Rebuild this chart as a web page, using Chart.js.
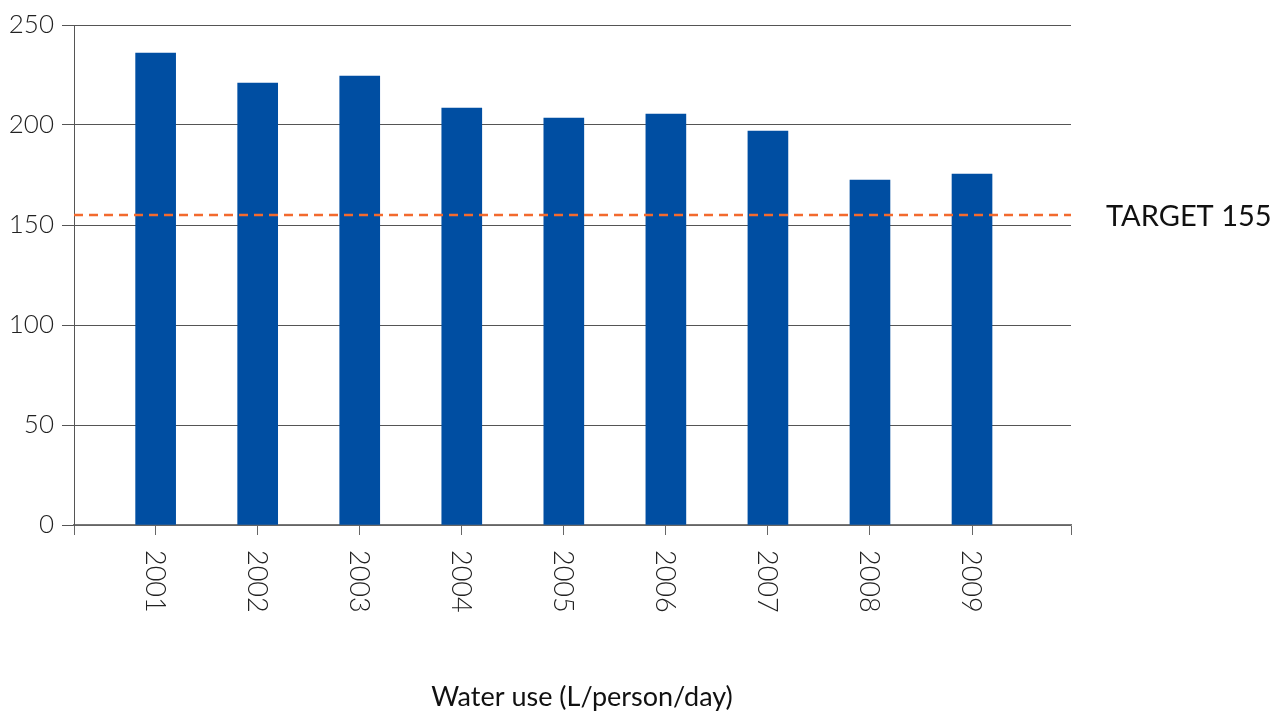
<!DOCTYPE html>
<html>
<head>
<meta charset="utf-8">
<script src="https://cdn.jsdelivr.net/npm/chart.js@4.4.0/dist/chart.umd.min.js"></script>
<style>
  html, body { margin: 0; padding: 0; background: #ffffff; }
  #wrap { width: 1274px; height: 713px; position: relative; }
</style>
</head>
<body>
<div id="wrap"><canvas id="c" width="1274" height="713"></canvas></div>
<script>
const years = [2001, 2002, 2003, 2004, 2005, 2006, 2007, 2008, 2009];
const waterUse = [236, 221, 224.5, 208.5, 203.5, 205.5, 197, 172.5, 175.5];
const targetValue = 155;
const targetLabel = 'TARGET 155';
const xTitle = 'Water use (L/person/day)';
const yTicks = [0, 50, 100, 150, 200, 250];
const xMin = 2000.2, xMax = 2009.97;

const FONT = "Lato, 'Open Sans', sans-serif";

const textPlugin = {
  id: 'texts',
  afterDraw(chart) {
    const ctx = chart.ctx;
    const xs = chart.scales.x, ys = chart.scales.y;
    ctx.save();
    // rotated year labels (clockwise)
    ctx.fillStyle = '#222';
    ctx.font = `300 27px ${FONT}`;
    ctx.textAlign = 'left';
    ctx.textBaseline = 'middle';
    years.forEach(yr => {
      const px = xs.getPixelForValue(yr);
      ctx.save();
      ctx.translate(px, 550);
      ctx.rotate(Math.PI / 2);
      ctx.fillText(String(yr), 0, 1);
      ctx.restore();
    });
    // target label
    ctx.fillStyle = '#111';
    ctx.font = `400 29px ${FONT}`;
    ctx.textAlign = 'left';
    ctx.textBaseline = 'middle';
    ctx.fillText(targetLabel, 1106, ys.getPixelForValue(targetValue) + 2);
    // x title
    ctx.font = `400 27px ${FONT}`;
    ctx.textAlign = 'center';
    ctx.fillText(xTitle, 582, 697);
    ctx.restore();
  }
};

new Chart(document.getElementById('c'), {
  type: 'bar',
  data: {
    datasets: [
      {
        type: 'line',
        data: [{x: xMin, y: targetValue}, {x: xMax, y: targetValue}],
        borderColor: '#F26A2E',
        borderWidth: 2.5,
        borderDash: [9, 6],
        pointRadius: 0,
        fill: false,
        order: 0
      },
      {
        type: 'bar',
        data: years.map((y, i) => ({x: y, y: waterUse[i]})),
        backgroundColor: '#004EA2',
        borderWidth: 0,
        barThickness: 40,
        order: 1
      }
    ]
  },
  options: {
    responsive: false,
    animation: false,
    devicePixelRatio: 1,
    layout: { padding: { top: 25, right: 203, left: 0, bottom: 0 } },
    plugins: { legend: { display: false }, tooltip: { enabled: false } },
    scales: {
      x: {
        type: 'linear',
        min: xMin,
        max: xMax,
        offset: false,
        afterBuildTicks(scale) {
          scale.ticks = [xMin, ...years, xMax].map(v => ({ value: v }));
        },
        afterFit(scale) { scale.height = 188; },
        ticks: { display: false },
        grid: { offset: false, drawOnChartArea: false, drawTicks: true, tickLength: 10, color: '#666', lineWidth: 1 },
        border: { display: true, color: '#777', width: 1.5 }
      },
      y: {
        min: 0,
        max: 250,
        afterBuildTicks(scale) {
          scale.ticks = yTicks.map(v => ({ value: v }));
        },
        afterFit(scale) { scale.width = 74; },
        ticks: {
          color: '#222',
          font: { family: FONT, size: 26, weight: '300' },
          padding: 8
        },
        grid: { color: '#555', lineWidth: 1, drawTicks: true, tickLength: 12 },
        border: { display: true, color: '#555', width: 1 }
      }
    }
  },
  plugins: [textPlugin]
});
</script>
</body>
</html>
